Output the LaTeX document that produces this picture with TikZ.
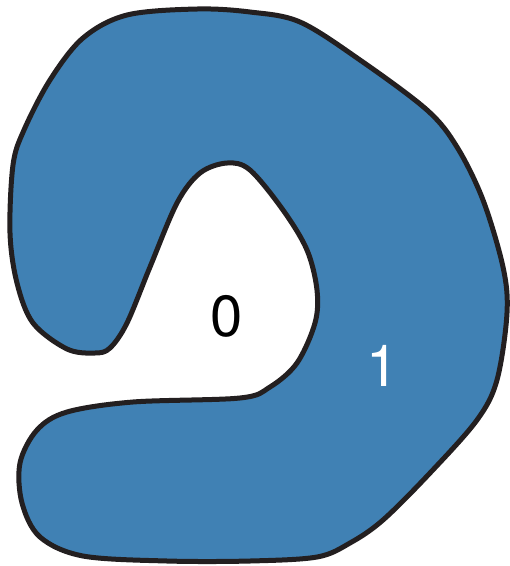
\documentclass[tikz,border=0pt]{standalone}
\usepackage{fontspec}
\newfontfamily\arialfont{TeX Gyre Heros}
\definecolor{blobblue}{RGB}{64,129,180}
\definecolor{blobline}{RGB}{35,31,32}
\tikzset{
  blob/.style={fill=blobblue, draw=blobline, line width=5pt, line join=round},
  lbl/.style={font=\arialfont\fontsize{58}{58}\selectfont, inner sep=0pt}
}
\begin{document}
\begin{tikzpicture}[x=1pt,y=-1pt]
\useasboundingbox (0,0) rectangle (510,566);
\draw[blob] plot[smooth cycle, tension=0.55] coordinates {
(127,15) (197,9) (250,12) (300,22) (360,60) (427,110) (457,147) (483,200)
(503,267) (507,313) (497,380) (477,420) (430,473) (383,520) (350,543)
(317,557) (250,561) (167,561) (83,556) (40,537) (22,503) (20,463) (37,430)
(67,412) (133,402) (240,398) (270,387) (297,363) (315,323) (317,290)
(307,250) (283,210) (250,170) (227,163) (200,173) (177,203) (150,267)
(127,323) (110,348) (95,353) (67,349) (33,323) (17,283) (10,233) (13,165)
(24,130) (50,80) (83,38)};
\node[lbl, text=black] (zero) at (227,316) {0};
\node[lbl, text=white] (one) at (383,366) {1};
\end{tikzpicture}
\end{document}
